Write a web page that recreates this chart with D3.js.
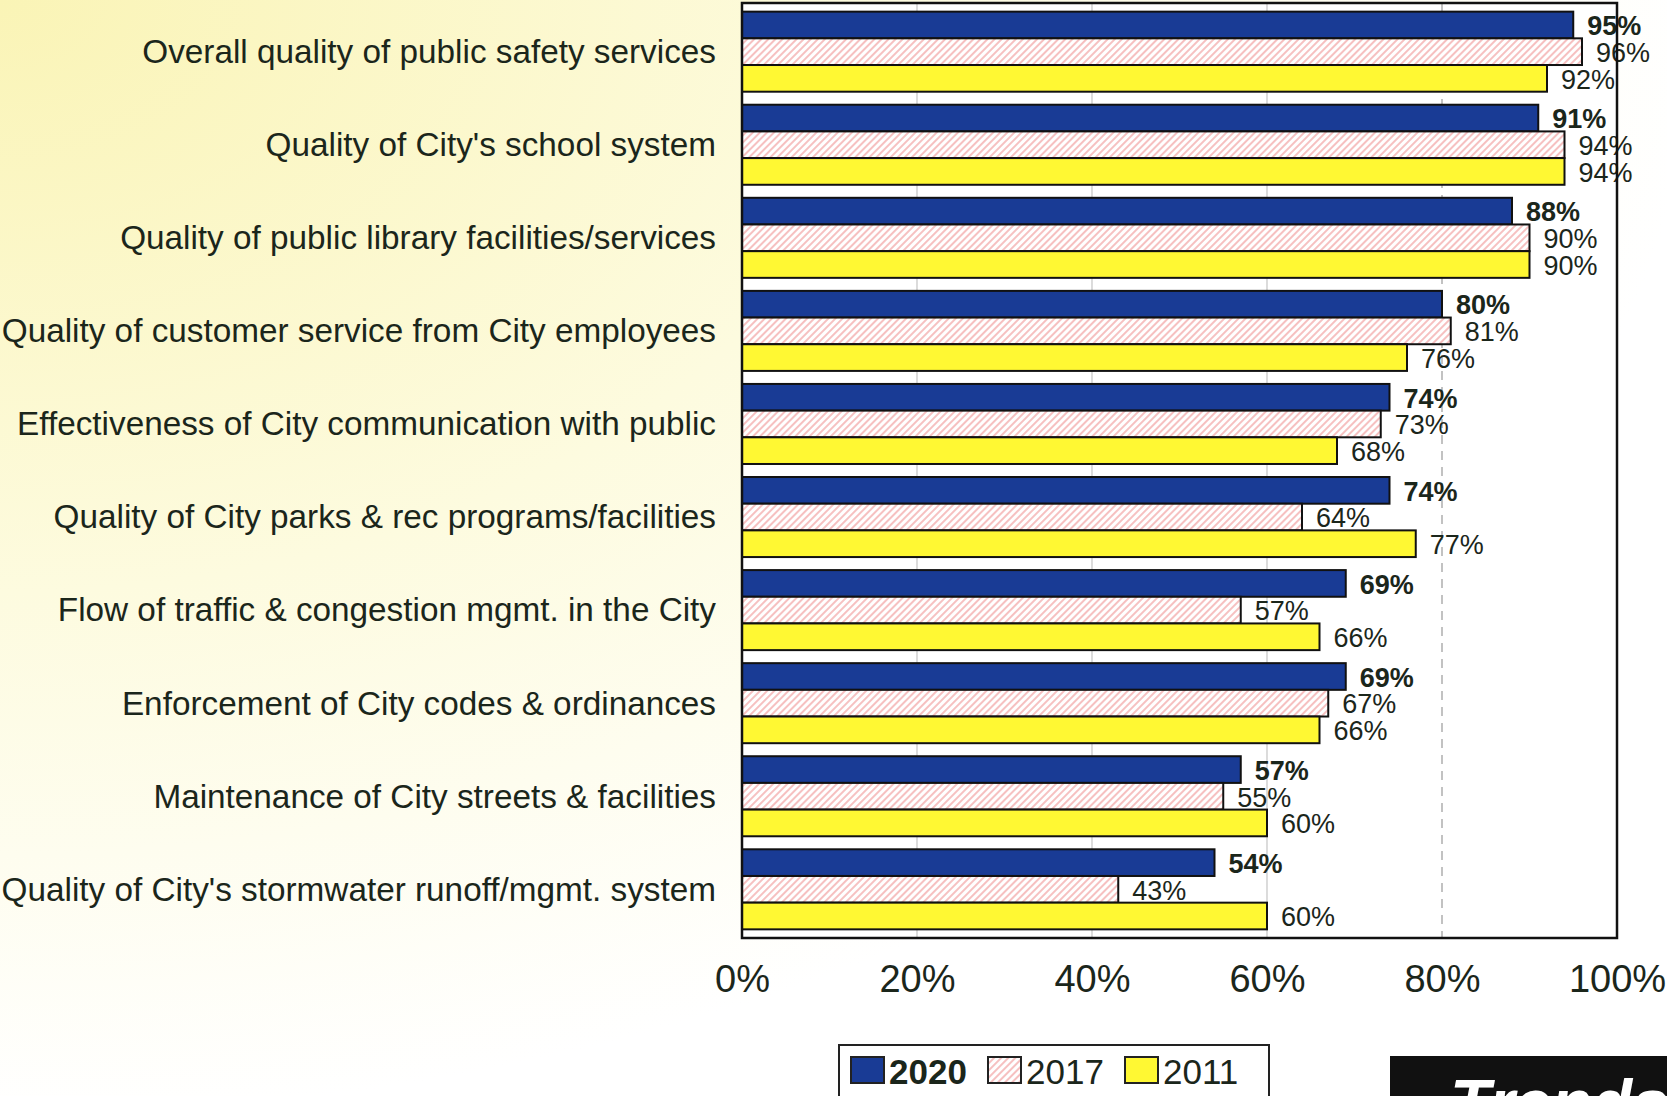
<!DOCTYPE html>
<html>
<head>
<meta charset="utf-8">
<script src="https://cdn.jsdelivr.net/npm/d3@7"></script>
<style>
  html, body { margin: 0; padding: 0; background: #fff; }
  svg { display: block; }
  text { font-family: "Liberation Sans", Arial, sans-serif; }
</style>
</head>
<body>
<svg id="chart" width="1667" height="1096"></svg>
<script>
const categories = [
  "Overall quality of public safety services",
  "Quality of City's school system",
  "Quality of public library facilities/services",
  "Quality of customer service from City employees",
  "Effectiveness of City communication with public",
  "Quality of City parks & rec programs/facilities",
  "Flow of traffic & congestion mgmt. in the City",
  "Enforcement of City codes & ordinances",
  "Maintenance of City streets & facilities",
  "Quality of City's stormwater runoff/mgmt. system"
];
const seriesNames = ["2020", "2017", "2011"];
const values2020 = [95, 91, 88, 80, 74, 74, 69, 69, 57, 54];
const values2017 = [96, 94, 90, 81, 73, 64, 57, 67, 55, 43];
const values2011 = [92, 94, 90, 76, 68, 77, 66, 66, 60, 60];
const xTicks = [0, 20, 40, 60, 80, 100];

const W = 1667, H = 1096;
const plot = { left: 742, right: 1617, top: 3, bottom: 938 };
const textColor = "#1b261b";
const blue = "#193b95";
const yellow = "#fff833";

const svg = d3.select("#chart");
const defs = svg.append("defs");

const bg = defs.append("radialGradient").attr("id", "bg")
  .attr("cx", 0).attr("cy", 0).attr("r", 1.2).attr("fx", 0).attr("fy", 0);
bg.append("stop").attr("offset", "0").attr("stop-color", "#faf4b6");
bg.append("stop").attr("offset", "0.45").attr("stop-color", "#fdfbdf");
bg.append("stop").attr("offset", "0.85").attr("stop-color", "#ffffff");

const hatch = defs.append("pattern").attr("id", "hatch")
  .attr("patternUnits", "userSpaceOnUse").attr("width", 5).attr("height", 5)
  .attr("patternTransform", "rotate(45)");
hatch.append("rect").attr("width", 5).attr("height", 5).attr("fill", "#fff");
hatch.append("line").attr("x1", 1).attr("y1", 0).attr("x2", 1).attr("y2", 5)
  .attr("stroke", "#f08d8d").attr("stroke-width", 1.1);

svg.append("rect").attr("width", W).attr("height", H).attr("fill", "url(#bg)");

const x = d3.scaleLinear().domain([0, 100]).range([plot.left, plot.right]);
const y = d3.scaleBand().domain(categories).range([plot.top, plot.bottom])
  .paddingInner(0.14).paddingOuter(0.093);
const sub = d3.scaleBand().domain(seriesNames).range([0, y.bandwidth()]);

const fills = { "2020": blue, "2017": "url(#hatch)", "2011": yellow };
const seriesData = { "2020": values2020, "2017": values2017, "2011": values2011 };

// plot background
svg.append("rect").attr("x", plot.left).attr("y", plot.top)
  .attr("width", plot.right - plot.left).attr("height", plot.bottom - plot.top)
  .attr("fill", "#fff");

// gridlines
svg.append("g").selectAll("line").data(xTicks.filter(t => t > 0 && t < 100)).join("line")
  .attr("x1", d => x(d)).attr("x2", d => x(d))
  .attr("y1", plot.top).attr("y2", plot.bottom)
  .attr("stroke", d => d === 80 ? "#9a9a9a" : "#c4c4c4")
  .attr("stroke-width", 1.2)
  .attr("stroke-dasharray", d => d === 80 ? "9,7" : null);

// bars
const groups = svg.append("g").selectAll("g").data(seriesNames).join("g");
groups.each(function(s) {
  const g = d3.select(this);
  const vals = seriesData[s];
  g.selectAll("rect").data(categories).join("rect")
    .attr("x", x(0))
    .attr("y", (c) => y(c) + sub(s))
    .attr("width", (c, i) => x(vals[i]) - x(0))
    .attr("height", sub.bandwidth())
    .attr("fill", fills[s])
    .attr("stroke", "#111")
    .attr("stroke-width", 2);
  g.selectAll("text").data(categories).join("text")
    .attr("x", (c, i) => x(vals[i]) + 14)
    .attr("y", (c) => y(c) + sub(s) + sub.bandwidth() / 2)
    .attr("dy", "0.38em")
    .attr("font-size", 27)
    .attr("font-weight", s === "2020" ? "bold" : "normal")
    .attr("fill", textColor)
    .text((c, i) => vals[i] + "%");
});

// frame
svg.append("rect").attr("x", plot.left).attr("y", plot.top)
  .attr("width", plot.right - plot.left).attr("height", plot.bottom - plot.top)
  .attr("fill", "none").attr("stroke", "#111").attr("stroke-width", 2.5);

// category labels
svg.append("g").selectAll("text").data(categories).join("text")
  .attr("x", 716)
  .attr("y", c => y(c) + y.bandwidth() / 2)
  .attr("dy", "0.34em")
  .attr("text-anchor", "end")
  .attr("font-size", 33.3)
  .attr("fill", textColor)
  .text(c => c);

// x axis labels
const xAxis = d3.axisBottom(x).tickValues(xTicks).tickSize(0).tickPadding(0)
  .tickFormat(d => d + "%");
const ax = svg.append("g").attr("transform", `translate(0, 992)`).call(xAxis);
ax.select(".domain").remove();
ax.selectAll("text").attr("font-size", 38).attr("fill", textColor)
  .attr("font-family", "Liberation Sans, Arial, sans-serif").attr("dy", 0);

// legend
const lg = svg.append("g");
lg.append("rect").attr("x", 839).attr("y", 1045).attr("width", 430).attr("height", 70)
  .attr("fill", "#fff").attr("stroke", "#222").attr("stroke-width", 2);
const legendX = { "2020": 851, "2017": 988, "2011": 1125 };
seriesNames.forEach(s => {
  lg.append("rect").attr("x", legendX[s]).attr("y", 1057).attr("width", 33).attr("height", 26)
    .attr("fill", fills[s]).attr("stroke", "#222").attr("stroke-width", 2);
  lg.append("text").attr("x", legendX[s] + 38).attr("y", 1084)
    .attr("font-size", 35).attr("font-weight", s === "2020" ? "bold" : "normal")
    .attr("fill", textColor).text(s);
});

// Trends box (clipped)
svg.append("rect").attr("x", 1390).attr("y", 1056).attr("width", 290).attr("height", 60)
  .attr("fill", "#111");
svg.append("text").attr("x", 1450).attr("y", 1126)
  .attr("font-size", 66).attr("font-weight", "bold").attr("font-style", "italic")
  .attr("fill", "#fff").text("Trends");
</script>
</body>
</html>
